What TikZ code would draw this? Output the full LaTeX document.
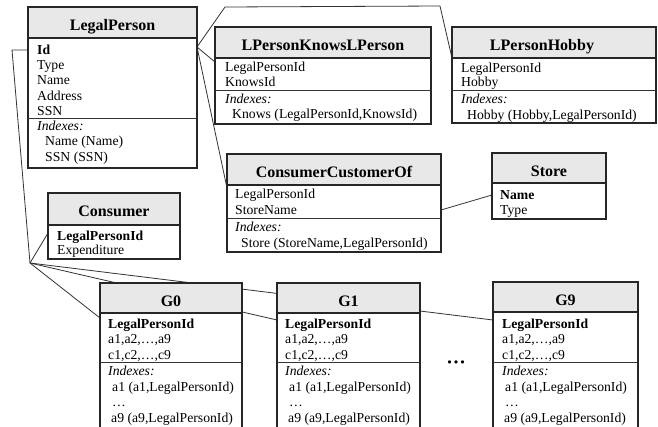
\documentclass[tikz,border=0pt]{standalone}
\usepackage{fontspec}
\setmainfont{Liberation Serif}
\newfontfamily\dejavu{DejaVu Sans}
\usetikzlibrary{calc}
\pgfdeclarelayer{bg}
\pgfsetlayers{bg,main}
\tikzset{
  boxnode/.style={anchor=north west, fill=white, draw=none, inner sep=0pt, outer sep=0pt},
  hdrfill/.style={fill=black!9},
  boxline/.style={line width=1.6pt, draw=black!85},
  sepline/.style={line width=0.8pt, draw=black!80},
  titletext/.style={anchor=base, font=\fontsize{16}{18}\selectfont\bfseries, inner sep=0pt},
  rowtext/.style={anchor=west, font=\fontsize{13.7}{15}\selectfont, inner sep=0pt, text height=10pt, text depth=2pt},
  conn/.style={line width=0.8pt, draw=black!80},
}
\newcommand{\tablebox}[8]{%
  \node[boxnode, minimum width=#4pt, minimum height=#5pt] (#1) at (#2,#3) {};
  \fill[hdrfill] (#1.north west) rectangle ($(#1.north east)+(0pt,-#6pt)$);
  \draw[boxline] ($(#1.north west)+(0pt,-#6pt)$) -- ($(#1.north east)+(0pt,-#6pt)$);
  \draw[boxline] (#1.north west) rectangle (#1.south east);
  \node[titletext] (#1-t) at ($(#1.north)+(#8pt,-23pt)$) {#7};
}
\newcommand{\rowt}[4]{\node[rowtext] (#1) at (#2,#3) {#4};}
\begin{document}
\begin{tikzpicture}[x=1pt,y=-1pt]
\useasboundingbox (0,0) rectangle (658,426);
\clip (0,0) rectangle (658,426);

% LegalPerson
\tablebox{lp}{28}{7}{169}{161}{31}{LegalPerson}{0}
\draw[sepline] (28,118) -- (197,118);
\rowt{lpid}{37}{50}{\textbf{Id}}
\rowt{lptype}{37}{65}{Type}
\rowt{lpname}{37}{80}{Name}
\rowt{lpaddr}{37}{96}{Address}
\rowt{lpssn}{37}{111}{SSN}
\rowt{lpix}{37}{126}{\textit{Indexes:}}
\rowt{lpix1}{45}{141}{Name (Name)}
\rowt{lpix2}{45}{157}{SSN (SSN)}

% LPersonKnowsLPerson
\tablebox{kn}{215}{27}{216}{97}{31}{LPersonKnowsLPerson}{0}
\draw[sepline] (215,90) -- (431,90);
\rowt{knid}{225}{67}{LegalPersonId}
\rowt{knkid}{225}{82}{KnowsId}
\rowt{knix}{225}{99}{\textit{Indexes:}}
\rowt{knix1}{232}{114}{Knows (LegalPersonId,KnowsId)}

% LPersonHobby
\tablebox{hb}{452}{27}{204}{96}{31}{LPersonHobby}{-12}
\draw[sepline] (452,90) -- (656,90);
\rowt{hbid}{461}{68}{LegalPersonId}
\rowt{hbhob}{461}{82}{Hobby}
\rowt{hbix}{461}{99}{\textit{Indexes:}}
\rowt{hbix1}{467}{115}{Hobby (Hobby,LegalPersonId)}

% ConsumerCustomerOf
\tablebox{cc}{227}{154}{214}{98}{31}{ConsumerCustomerOf}{0}
\draw[sepline] (227,218) -- (441,218);
\rowt{ccid}{235}{194}{LegalPersonId}
\rowt{ccsn}{235}{210}{StoreName}
\rowt{ccix}{235}{227}{\textit{Indexes:}}
\rowt{ccix1}{241}{243}{Store (StoreName,LegalPersonId)}

% Store
\tablebox{st}{492}{153}{114}{66}{30}{Store}{0}
\rowt{stname}{500}{195}{\textbf{Name}}
\rowt{sttype}{500}{210}{Type}

% Consumer
\tablebox{co}{48}{193}{132}{66}{32}{Consumer}{0}
\rowt{coid}{57}{236}{\textbf{LegalPersonId}}
\rowt{coexp}{57}{250}{Expenditure}

% G0
\tablebox{g0}{100}{283}{142}{150}{30}{G0}{0}
\draw[sepline] (100,362) -- (242,362);
\rowt{g0id}{108}{324}{\textbf{LegalPersonId}}
\rowt{g0a}{108}{339}{a1,a2,…,a9}
\rowt{g0c}{108}{355}{c1,c2,…,c9}
\rowt{g0ix}{108}{371}{\textit{Indexes:}}
\rowt{g0ix1}{112}{387}{a1 (a1,LegalPersonId)}
\rowt{g0ix2}{112}{402}{…}
\rowt{g0ix3}{111}{418}{a9 (a9,LegalPersonId)}

% G1
\tablebox{g1}{277}{283}{143}{150}{30}{G1}{0}
\draw[sepline] (277,362) -- (420,362);
\rowt{g1id}{285}{324}{\textbf{LegalPersonId}}
\rowt{g1a}{285}{339}{a1,a2,…,a9}
\rowt{g1c}{285}{355}{c1,c2,…,c9}
\rowt{g1ix}{285}{371}{\textit{Indexes:}}
\rowt{g1ix1}{289}{387}{a1 (a1,LegalPersonId)}
\rowt{g1ix2}{289}{402}{…}
\rowt{g1ix3}{288}{418}{a9 (a9,LegalPersonId)}

% G9
\tablebox{g9}{493}{282}{145}{150}{30}{G9}{0}
\draw[sepline] (493,362) -- (638,362);
\rowt{g9id}{502}{324}{\textbf{LegalPersonId}}
\rowt{g9a}{502}{339}{a1,a2,…,a9}
\rowt{g9c}{502}{355}{c1,c2,…,c9}
\rowt{g9ix}{502}{371}{\textit{Indexes:}}
\rowt{g9ix1}{505}{387}{a1 (a1,LegalPersonId)}
\rowt{g9ix2}{505}{402}{…}
\rowt{g9ix3}{504}{418}{a9 (a9,LegalPersonId)}

\node[font=\dejavu\fontsize{11}{12}\selectfont, inner sep=0pt] (dots) at (456,364) {•••};

% connectors
\coordinate (jl) at (12,50);
\coordinate (jn) at (30,263);
\coordinate (tl) at (225,7);
\coordinate (tr) at (440,6);
\begin{pgfonlayer}{bg}
\fill[white] (0,0) rectangle (658,426);
\draw[conn] (lp.west |- lpid) -- (jl) -- (jn);
\draw[conn] (jn) -- ($(co.west |- coid)+(0pt,3pt)$);
\draw[conn] (jn) -- ($(g0.west |- g0id)+(0pt,6pt)$);
\draw[conn] (jn) -- ($(g1.west |- g1id)+(0pt,4pt)$);
\draw[conn] (jn) -- ($(g9.west |- g9id)+(0pt,4pt)$);
\draw[conn] ($(lp.east |- lpid)+(0pt,3pt)$) -- ($(kn.west |- knid)+(0pt,5pt)$);
\draw[conn] ($(lp.east |- lpid)+(0pt,3pt)$) -- (tl) -- (tr) -- ($(hb.west |- hbid)+(0pt,10pt)$);
\draw[conn] ($(lp.east |- lpid)+(0pt,3pt)$) -- ($(cc.west |- ccid)+(0pt,6pt)$);
\draw[conn] (cc.east |- ccsn) -- (st.west |- stname);
\end{pgfonlayer}
\end{tikzpicture}
\end{document}
